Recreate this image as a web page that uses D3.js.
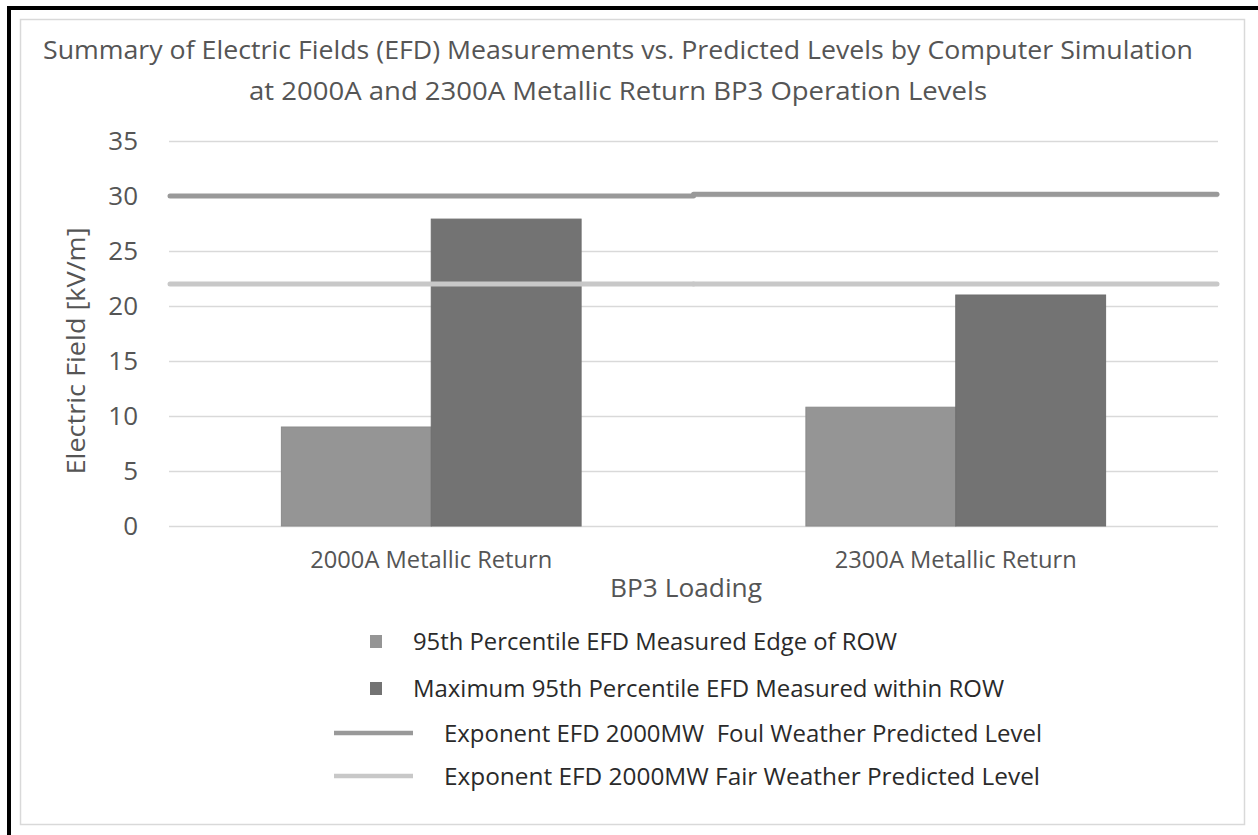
<!DOCTYPE html>
<html>
<head>
<meta charset="utf-8">
<script src="https://cdn.jsdelivr.net/npm/d3@7"></script>
<style>
  body { margin: 0; background: #fff; }
  text { font-family: "Open Sans", "Noto Sans", sans-serif; }
</style>
</head>
<body>
<svg id="chart"></svg>
<script>
// data
var categories = ["2000A Metallic Return", "2300A Metallic Return"]
var edgeOfRow = [9.0, 10.8]
var withinRow = [27.9, 21.0]
var foulLevel = [30, 30.15]
var fairLevel = [22, 22]
var yTicks = [0, 5, 10, 15, 20, 25, 30, 35]
var seriesNames = ["95th Percentile EFD Measured Edge of ROW",
    "Maximum 95th Percentile EFD Measured within ROW",
    "Exponent EFD 2000MW  Foul Weather Predicted Level",
    "Exponent EFD 2000MW Fair Weather Predicted Level"]
var titleLines = ["Summary of Electric Fields (EFD) Measurements vs. Predicted Levels by Computer Simulation",
    "at 2000A and 2300A Metallic Return BP3 Operation Levels"]

var W = 1258, H = 835
var plot = { left: 169, right: 1218, top: 141, bottom: 526 }
var textGrey = "#555"

var svg = d3.select("#chart")
    .attr("width", W)
    .attr("height", H)

// frame: light inner border + heavy black left/top edge
svg.append("rect")
    .attr("x", 20.5).attr("y", 19.5)
    .attr("width", 1224).attr("height", 805)
    .attr("fill", "#fff")
    .attr("stroke", "#d9d9d9")
    .attr("stroke-width", 1.5)

svg.append("rect").attr("x", 7).attr("y", 6).attr("width", 4).attr("height", H - 6).attr("fill", "#000")
svg.append("rect").attr("x", 7).attr("y", 6).attr("width", W - 7).attr("height", 4).attr("fill", "#000")

function fit(sel, len) {
    sel.attr("textLength", len).attr("lengthAdjust", "spacingAndGlyphs")
    return sel
}

// title
var titleY = [59, 100], titleW = [1150, 738]
titleLines.forEach(function(t, i) {
    svg.append("text")
        .attr("x", 618).attr("y", titleY[i])
        .attr("text-anchor", "middle")
        .attr("fill", textGrey)
        .style("font-size", "26px")
        .text(t)
        .call(fit, titleW[i])
})

var yScale = d3.scaleLinear()
    .domain([0, 35])
    .range([plot.bottom, plot.top])

var x0 = d3.scaleBand()
    .domain(categories)
    .range([plot.left, plot.right])
    .padding(0)

// Excel style gap width 75%
var groupW = x0.bandwidth() / 1.75
var x1 = d3.scaleBand()
    .domain([0, 1])
    .range([0, groupW])

// gridlines + y tick labels
var yAxis = svg.append("g")
    .attr("transform", "translate(" + plot.left + ",0)")
    .call(d3.axisLeft(yScale)
        .tickValues(yTicks)
        .tickSize(-(plot.right - plot.left))
        .tickPadding(31))
yAxis.select(".domain").remove()
yAxis.selectAll("line").attr("stroke", "#d9d9d9").attr("stroke-width", 1.3)
yAxis.selectAll("text")
    .attr("fill", textGrey)
    .style("font-size", "26px")
    .style("font-family", "'Open Sans', sans-serif")

// x category labels
var xAxis = svg.append("g")
    .attr("transform", "translate(0," + plot.bottom + ")")
    .call(d3.axisBottom(x0).tickSize(0).tickPadding(25))
xAxis.select(".domain").remove()
xAxis.selectAll("text")
    .attr("fill", textGrey)
    .style("font-size", "24px")
    .style("font-family", "'Open Sans', sans-serif")
    .call(fit, 242)

// bars
var barData = []
categories.forEach(function(c, i) {
    barData.push({ cat: c, s: 0, value: edgeOfRow[i] })
    barData.push({ cat: c, s: 1, value: withinRow[i] })
})
var barFill = ["#959595", "#737373"]
var barStroke = ["#8b8b8b", "#6e6e6e"]

svg.append("g").selectAll("rect")
    .data(barData)
    .enter()
    .append("rect")
    .attr("x", function(d) { return x0(d.cat) + (x0.bandwidth() - groupW) / 2 + x1(d.s) })
    .attr("y", function(d) { return yScale(d.value) })
    .attr("width", x1.bandwidth())
    .attr("height", function(d) { return yScale(0) - yScale(d.value) })
    .attr("fill", function(d) { return barFill[d.s] })
    .attr("stroke", function(d) { return barStroke[d.s] })
    .attr("stroke-width", 1)

// predicted level lines, one flat segment per category band
function levelLine(values, color) {
    svg.append("g").selectAll("line")
        .data(values)
        .enter()
        .append("line")
        .attr("x1", function(d, i) { return x0(categories[i]) + (i === 0 ? 1 : 0) })
        .attr("x2", function(d, i) { return x0(categories[i]) + x0.bandwidth() - (i === values.length - 1 ? 1 : 0) })
        .attr("y1", function(d) { return yScale(d) })
        .attr("y2", function(d) { return yScale(d) })
        .attr("stroke", color)
        .attr("stroke-width", 5)
        .attr("stroke-linecap", "round")
}
levelLine(foulLevel, "#999")
levelLine(fairLevel, "#c8c8c8")

// axis titles
svg.append("text")
    .attr("transform", "translate(85,351) rotate(-90)")
    .attr("text-anchor", "middle")
    .attr("fill", textGrey)
    .style("font-size", "26px")
    .text("Electric Field [kV/m]")
    .call(fit, 247)

svg.append("text")
    .attr("x", 686).attr("y", 597)
    .attr("text-anchor", "middle")
    .attr("fill", textGrey)
    .style("font-size", "26px")
    .text("BP3 Loading")
    .call(fit, 152)

// legend
var legendY = [650, 697, 742, 785]
var legendTextX = [413, 413, 444, 444]
var legendW = [484, 591, 598, 596]
var legendMark = [barFill[0], barFill[1], "#999", "#c8c8c8"]

var legend = svg.append("g")
seriesNames.forEach(function(name, i) {
    if (i < 2) {
        legend.append("rect")
            .attr("x", 370).attr("y", legendY[i] - 15)
            .attr("width", 12).attr("height", 13)
            .attr("fill", legendMark[i])
    } else {
        legend.append("line")
            .attr("x1", 334).attr("x2", 413)
            .attr("y1", legendY[i] - 9).attr("y2", legendY[i] - 9)
            .attr("stroke", legendMark[i])
            .attr("stroke-width", 4.5)
    }
    legend.append("text")
        .attr("x", legendTextX[i]).attr("y", legendY[i])
        .attr("fill", "#2a2a2a")
        .style("font-size", "24px")
        .style("white-space", "pre")
        .text(name)
        .call(fit, legendW[i])
})
</script>
</body>
</html>
